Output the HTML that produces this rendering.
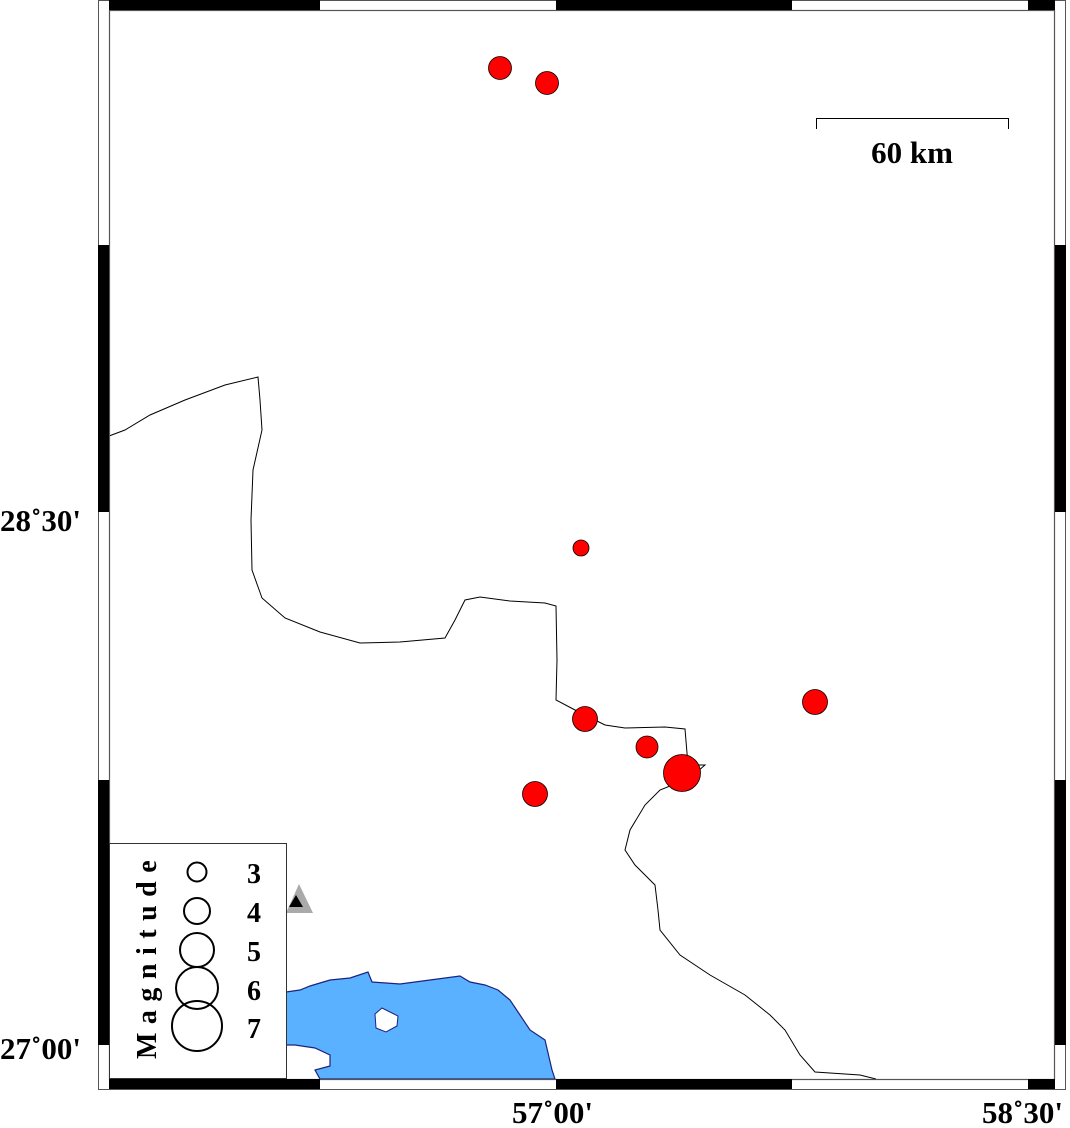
<!DOCTYPE html>
<html><head><style>html,body{margin:0;padding:0;background:#fff;}svg{display:block}</style></head>
<body>
<svg width="1070" height="1128" viewBox="0 0 1070 1128" xmlns="http://www.w3.org/2000/svg" font-family="Liberation Serif, serif">
<rect width="1070" height="1128" fill="#fff"/>
<!-- sea -->
<path d="M286 992 L300 990 L310 986 L330 980 L350 978 L368 972 L372 982 L400 984 L430 980 L460 976 L470 982 L485 985 L498 990 L510 1000 L520 1015 L530 1030 L545 1040 L552 1070 L555 1079 L320 1079 L315 1070 L330 1066 L330 1055 L315 1048 L295 1045 L286 1045 Z" fill="#5ab1ff" stroke="#1a237e" stroke-width="1.2"/>
<path d="M375 1014 L382 1008 L390 1012 L398 1016 L397 1026 L386 1032 L376 1028 Z" fill="#fff" stroke="#1a237e" stroke-width="1"/>
<!-- borders -->
<path d="M109 436 L125 430 L150 415 L185 400 L225 385 L258 377 L260 400 L262 430 L253 470 L251 520 L252 570 L262 598 L285 618 L320 632 L360 643 L400 642 L445 638 L455 620 L465 600 L480 597 L510 601 L545 603 L556 606 L557 660 L556 700 L575 710 L605 725 L625 728 L665 727 L685 729 L688 765 L705 765 L690 778 L660 790 L645 805 L630 830 L625 850 L635 865 L655 885 L658 910 L660 930 L680 955 L710 975 L745 995 L770 1015 L785 1030 L800 1055 L815 1072 L860 1075 L876 1079" fill="none" stroke="#000" stroke-width="1"/>
<!-- frame -->
<rect x="98.5" y="0.5" width="967" height="1089" fill="none" stroke="#555" stroke-width="1"/>
<rect x="109.5" y="10.5" width="945" height="1069" fill="none" stroke="#555" stroke-width="1.2"/>
<g fill="#000">
<rect x="109" y="0" width="211" height="10"/><rect x="556" y="0" width="236" height="10"/><rect x="1028" y="0" width="27" height="10"/>
<rect x="109" y="1079" width="211" height="10"/><rect x="556" y="1079" width="236" height="10"/><rect x="1028" y="1079" width="27" height="10"/>
<rect x="98" y="245" width="11" height="267"/><rect x="98" y="780" width="11" height="265"/>
<rect x="1055" y="245" width="11" height="267"/><rect x="1055" y="780" width="11" height="265"/>
</g>
<!-- scale -->
<path d="M816.5 129 V118.5 H1008.5 V129" fill="none" stroke="#000" stroke-width="1"/>
<text x="912" y="163" font-size="31" font-weight="bold" text-anchor="middle">60 km</text>
<!-- quakes -->
<g fill="#ff0000" stroke="#000" stroke-width="0.8">
<circle cx="500" cy="68" r="11.5"/><circle cx="547" cy="83" r="11.5"/>
<circle cx="581" cy="548" r="8"/><circle cx="585" cy="719" r="12.5"/>
<circle cx="647" cy="747" r="11"/><circle cx="682" cy="773" r="18.5"/>
<circle cx="815" cy="702" r="12.5"/><circle cx="535" cy="794" r="12.5"/>
</g>
<!-- station -->
<polygon points="299,884 286,913 313,913" fill="#aaa"/>
<polygon points="296,895 289,907 303,907" fill="#000"/>
<!-- legend -->
<rect x="109.5" y="843.5" width="177" height="235" fill="#fff" stroke="#333" stroke-width="1"/>
<g fill="none" stroke="#000" stroke-width="2">
<circle cx="197" cy="872" r="9.5"/><circle cx="197" cy="911" r="13"/><circle cx="197" cy="950" r="17"/><circle cx="197" cy="988" r="21"/><circle cx="197" cy="1026" r="25"/>
</g>
<g font-size="28" font-weight="bold">
<text x="247" y="883">3</text><text x="247" y="922">4</text><text x="247" y="961">5</text><text x="247" y="1000">6</text><text x="247" y="1038">7</text>
</g>
<text transform="translate(156,1059) rotate(-90)" font-size="28" font-weight="bold" letter-spacing="8.5">Magnitude</text>
<!-- labels -->
<g font-size="31" font-weight="bold">
<text x="0" y="531">28˚30'</text>
<text x="0" y="1059">27˚00'</text>
<text x="512" y="1123">57˚00'</text>
<text x="982" y="1123">58˚30'</text>
</g>
</svg>
</body></html>
